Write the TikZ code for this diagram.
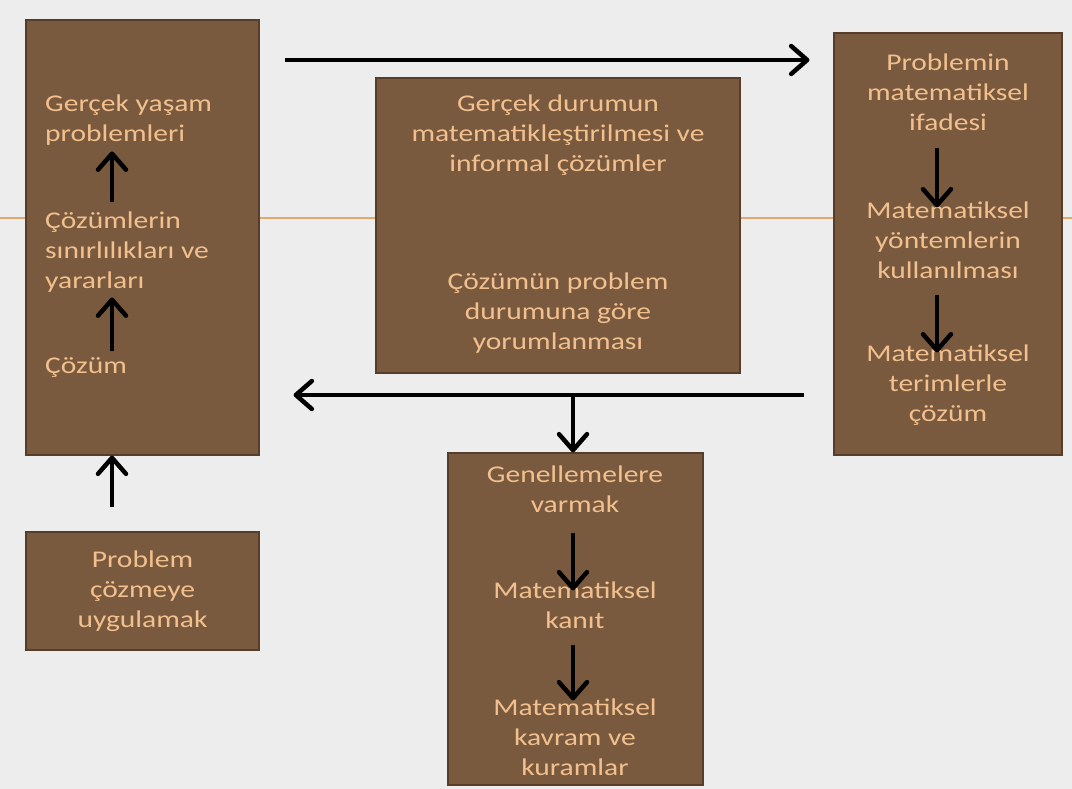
\documentclass[tikz,border=0pt]{standalone}
\usepackage{fontspec}
\setmainfont{Carlito}[FakeStretch=1.23]
\usepackage{tikz}
\usetikzlibrary{arrows.meta,positioning,calc}
\definecolor{SLbg}{RGB}{237,237,237}
\definecolor{SLbrown}{RGB}{122,90,62}
\definecolor{SLedge}{RGB}{86,62,42}
\definecolor{SLpeach}{RGB}{242,192,142}
\definecolor{SLrule}{RGB}{228,168,108}

\begin{document}
\begin{tikzpicture}[x=1pt,y=-1pt,
      box/.style={draw=SLedge,fill=SLbrown,line width=1.2pt,inner sep=0pt},
      txt/.style={inner sep=0pt,text=SLpeach,align=center,font=\fontsize{24}{30}\selectfont},
      arr/.style={-{Straight Barb[length=16pt,width=28pt,line width=4.5pt,round]},line width=4.5pt}
    ]
    \fill[SLbg] (0,0) rectangle (1072,789);
    \useasboundingbox (0,0) rectangle (1072,789);
    \draw[SLrule,line width=1.5pt] (0,218) -- (1072,218);

    \node[box,minimum width=233pt,minimum height=435pt] (lbox) at (142.5,237.5) {};
    \node[box,txt,draw=SLedge,line width=1.2pt,minimum width=233pt,minimum height=118pt] (uyg) at (142.5,591) {Problem\\çözmeye\\uygulamak};
    \node[box,minimum width=364pt,minimum height=295pt] (cbox) at (558,225.5) {};
    \node[box,minimum width=255pt,minimum height=332pt] (gbox) at (575.5,619) {};
    \node[box,minimum width=228pt,minimum height=422pt] (rbox) at (948,244) {};

    \node[txt,align=left,anchor=west] (gyp) at (45,120) {Gerçek yaşam\\problemleri};
    \node[txt,align=left,anchor=west] (sinir) at (45,252) {Çözümlerin\\sınırlılıkları ve\\yararları};
    \node[txt,align=left,anchor=west] (cozum) at (45,368) {Çözüm};

    \node[txt] (gdm) at (558,135) {Gerçek durumun\\matematikleştirilmesi ve\\informal çözümler};
    \node[txt] (cpy) at (558,313) {Çözümün problem\\durumuna göre\\yorumlanması};

    \node[txt] (pmi) at (948,92) {Problemin\\matematiksel\\ifadesi};
    \node[txt] (myk) at (948,240) {Matematiksel\\yöntemlerin\\kullanılması};
    \node[txt] (mtc) at (948,385) {Matematiksel\\terimlerle\\çözüm};

    \node[txt] (gen) at (575,489) {Genellemelere\\varmak};
    \node[txt] (kan) at (575,605) {Matematiksel\\kanıt};
    \node[txt] (kur) at (575,737) {Matematiksel\\kavram ve\\kuramlar};

    \coordinate (lx) at (112,0);
    \coordinate (rx) at (937,0);
    \coordinate (gx) at (573,0);
    \coordinate (ty) at (0,60);
    \coordinate (by) at (0,395);
    \coordinate (bx) at (573,395);

    \draw[arr,shorten <=10pt,shorten >=6pt] (sinir.north -| lx) -- (gyp.south -| lx);
    \draw[arr,shorten <=7pt,shorten >=5pt] (cozum.north -| lx) -- (sinir.south -| lx);
    \draw[arr,shorten <=24pt] (uyg.north -| lx) -- (lbox.south -| lx);

    \draw[arr,shorten <=17pt,shorten >=-6pt] (pmi.south -| rx) -- (myk.north -| rx);
    \draw[arr,shorten <=16pt,shorten >=-8pt] (myk.south -| rx) -- (mtc.north -| rx);

    \draw[arr,shorten <=20pt,shorten >=-9pt] (gen.south -| gx) -- (kan.north -| gx);
    \draw[arr,shorten <=16pt,shorten >=-2pt] (kan.south -| gx) -- (kur.north -| gx);

    \draw[arr,shorten <=25pt,shorten >=24pt] (lbox.east |- ty) -- (rbox.west |- ty);
    \draw[arr,shorten <=29pt,shorten >=34pt] (rbox.west |- by) -- (lbox.east |- by);
    \draw[arr,shorten <=-2pt] (bx) -- (gbox.north -| bx);
  \end{tikzpicture}
\end{document}
